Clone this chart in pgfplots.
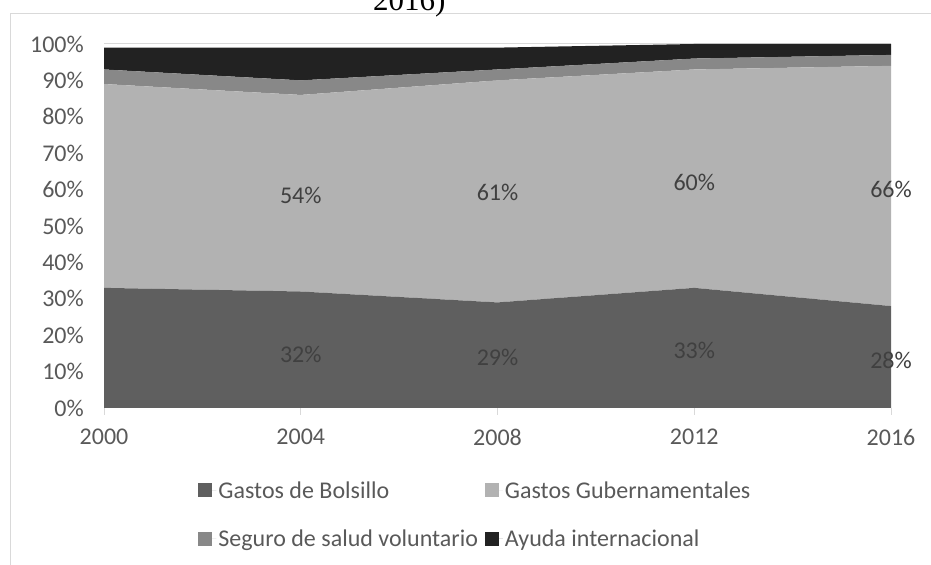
\documentclass[border=0pt]{standalone}
\usepackage{fontspec}
\setmainfont{Carlito}
\newfontfamily\seriffont{Liberation Serif}
\usepackage{pgfplots}
\pgfplotsset{compat=1.18}
\definecolor{cB}{HTML}{5F5F5F}
\definecolor{cG}{HTML}{B2B2B2}
\definecolor{cS}{HTML}{888888}
\definecolor{cA}{HTML}{222222}
\definecolor{txt}{HTML}{595959}
\definecolor{lbl}{HTML}{404040}
\definecolor{frm}{HTML}{D9D9D9}
\newcommand{\cf}{\fontsize{24bp}{28bp}\selectfont}
\begin{document}
\begin{tikzpicture}[x=1bp,y=1bp]
\useasboundingbox (0,0) rectangle (931,565);
\draw[frm, line width=1bp] (10,-20) -- (10,551) -- (960,551);
\node[anchor=base west, inner sep=0pt, font=\seriffont\fontsize{31bp}{36bp}\selectfont] at (373,554) {2016)};
\begin{axis}[
  at={(104bp,157bp)}, anchor=south west,
  scale only axis, width=787bp, height=364bp,
  xmin=2000, xmax=2016, ymin=0, ymax=100,
  xtick={2000,2004,2008,2012,2016},
  xticklabels={2000,2004,2008,2012,2016},
  ytick={0,10,20,30,40,50,60,70,80,90,100},
  yticklabels={0\%,10\%,20\%,30\%,40\%,50\%,60\%,70\%,80\%,90\%,100\%},
  axis x line*=bottom, axis y line*=left,
  x axis line style={frm, line width=1bp, -},
  y axis line style={draw=none},
  ytick style={draw=none},
  xtick align=outside, major tick length=7bp,
  xtick style={frm, line width=1bp},
  ymajorgrids, grid style={frm, line width=1bp},
  tick label style={font=\cf, text=txt},
  yticklabel style={inner sep=0pt, xshift=-20bp},
  xticklabel style={inner sep=0pt, yshift=-14bp},
  stack plots=y,
  legend columns=2,
  legend cell align=left,
  legend image code/.code={\fill[#1] (0bp,-7bp) rectangle (14bp,7bp); \path (0bp,0bp) -- (18bp,0bp);},
  legend style={draw=none, fill=none, font=\cf, text=txt,
    at={(axis description cs:0.116,-0.19)}, anchor=north west,
    /tikz/every even column/.append style={column sep=5bp},
    row sep=26bp},
]
\addplot[fill=cB, draw=none] coordinates {(2000,33) (2004,32) (2008,29) (2012,33) (2016,28)} \closedcycle;
\addlegendentry{Gastos de Bolsillo}
\addplot[fill=cG, draw=none] coordinates {(2000,56) (2004,54) (2008,61) (2012,60) (2016,66)} \closedcycle;
\addlegendentry{Gastos Gubernamentales}
\addplot[fill=cS, draw=none] coordinates {(2000,4) (2004,4) (2008,3) (2012,3) (2016,3)} \closedcycle;
\addlegendentry{Seguro de salud voluntario}
\addplot[fill=cA, draw=none] coordinates {(2000,6) (2004,9) (2008,6) (2012,4) (2016,3)} \closedcycle;
\addlegendentry{Ayuda internacional}
\coordinate (g1) at (axis cs:2004,58.4);
\coordinate (g2) at (axis cs:2008,59.3);
\coordinate (g3) at (axis cs:2012,62);
\coordinate (g4) at (axis cs:2016,60);
\coordinate (b1) at (axis cs:2004,14.8);
\coordinate (b2) at (axis cs:2008,14);
\coordinate (b3) at (axis cs:2012,15.9);
\coordinate (b4) at (axis cs:2016,13.2);
\end{axis}
\begin{scope}[every node/.style={font=\cf, text=lbl}]
\node at (g1) {54\%};
\node at (g2) {61\%};
\node at (g3) {60\%};
\node at (g4) {66\%};
\node at (b1) {32\%};
\node at (b2) {29\%};
\node at (b3) {33\%};
\node at (b4) {28\%};
\end{scope}
\end{tikzpicture}
\end{document}
